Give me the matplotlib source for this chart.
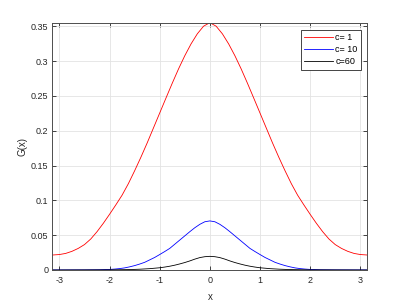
import numpy as np
import matplotlib
matplotlib.use("Agg")
import matplotlib.pyplot as plt

plt.rcParams['font.family'] = ['Liberation Sans', 'DejaVu Sans']

# Values (symmetric about x = 0; left half listed)
x_red_half = [-3.1416, -3.0, -2.875, -2.75, -2.625, -2.5, -2.375, -2.25, -2.125, -2.0,
              -1.875, -1.75, -1.625, -1.5, -1.375, -1.25, -1.125, -1.0,
              -0.875, -0.75, -0.625, -0.5, -0.375, -0.25, -0.125, 0.0]
y_red_half = [0.0215, 0.0222, 0.0238, 0.0268, 0.031, 0.0365, 0.0445, 0.055, 0.067, 0.080,
              0.0935, 0.1075, 0.124, 0.1425, 0.162, 0.1825, 0.204, 0.2255,
              0.247, 0.2683, 0.2888, 0.3078, 0.3248, 0.3393, 0.3503, 0.3553]

x_blue_half = [-3.1416, -2.5, -2.2, -2.0, -1.9, -1.8, -1.7, -1.6, -1.5, -1.4, -1.3, -1.2,
               -1.1, -1.0, -0.9, -0.8, -0.7, -0.6, -0.5, -0.4, -0.3, -0.2, -0.1, 0.0]
y_blue_half = [0.0, 0.0001, 0.0003, 0.0008, 0.0013, 0.002, 0.003, 0.0045, 0.0063, 0.0085,
               0.011, 0.0145, 0.018, 0.0222, 0.0265, 0.031, 0.037, 0.043, 0.049, 0.055,
               0.0607, 0.0656, 0.0693, 0.0705]

x_black_half = [-3.1416, -2.0, -1.6, -1.4, -1.2, -1.0, -0.9, -0.8, -0.7, -0.6, -0.5,
                -0.4, -0.3, -0.2, -0.1, 0.0]
y_black_half = [0.0, 0.0002, 0.0006, 0.0011, 0.0019, 0.0032, 0.0042, 0.0054, 0.0069,
                0.0087, 0.0107, 0.013, 0.0156, 0.0178, 0.0191, 0.0196]

labels = ['c= 1', 'c= 10', 'c=60']
colors = ['#ff0000', '#0000ff', '#000000']


def mirror(xh, yh):
    x = list(xh) + [-v for v in reversed(xh[:-1])]
    y = list(yh) + list(reversed(yh[:-1]))
    return np.array(x), np.array(y)


series = [mirror(x_red_half, y_red_half),
          mirror(x_blue_half, y_blue_half),
          mirror(x_black_half, y_black_half)]

fig = plt.figure(figsize=(4.07, 3.05), dpi=100)
ax = fig.add_axes([0.1285, 0.1148, 0.7742, 0.8108])

for (x, y), lab, col in zip(series, labels, colors):
    ax.plot(x, y, color=col, lw=0.6, label=lab)

ax.set_xlim(-np.pi, np.pi)
ax.set_ylim(0, 0.3553)
ax.set_xticks([-3, -2, -1, 0, 1, 2, 3])
ax.set_xticklabels(['-3', '-2', '-1', '0', '1', '2', '3'])
ax.set_yticks([0, 0.05, 0.1, 0.15, 0.2, 0.25, 0.3, 0.35])
ax.set_yticklabels(['0', '0.05', '0.1', '0.15', '0.2', '0.25', '0.3', '0.35'])

ax.grid(True, color='#e3e3e3', lw=0.6)
ax.set_axisbelow(True)
ax.tick_params(direction='in', length=3, width=0.6, colors='#262626',
               labelsize=6.5, top=True, right=True, pad=3)
ax.tick_params(axis='x', pad=4.5)
for s in ax.spines.values():
    s.set_color('#4d4d4d')
    s.set_linewidth(0.7)

ax.set_xlabel('x', fontsize=7, color='#262626', labelpad=5)
ax.set_ylabel('G(x)', fontsize=7, color='#262626', labelpad=2.5)

leg = ax.legend(loc='upper right', bbox_to_anchor=(360.7 / 407, 1 - 30 / 305),
                bbox_transform=fig.transFigure, borderaxespad=0, fontsize=6.5,
                fancybox=False, framealpha=1, edgecolor='#262626',
                handlelength=3.2, handletextpad=0.3, labelspacing=0.35,
                borderpad=0.35)
leg.get_frame().set_linewidth(0.6)

fig.savefig('out.png', dpi=100)
